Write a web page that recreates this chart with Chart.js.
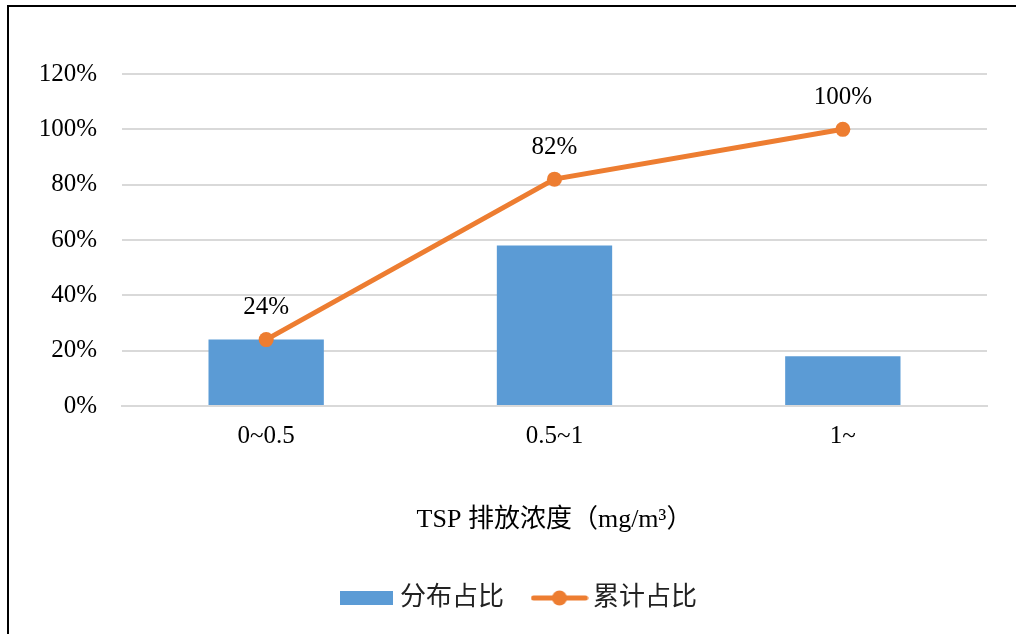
<!DOCTYPE html>
<html>
<head>
<meta charset="utf-8">
<script src="https://cdn.jsdelivr.net/npm/chart.js@4"></script>
<style>
  body { margin: 0; background: #fff; overflow: hidden; }
  #frame { position: absolute; left: 7px; top: 5px; width: 1100px; height: 700px; border: 2px solid #000; }
  #chart { position: absolute; left: 0; top: 0; }
</style>
</head>
<body>
<div id="frame"></div>
<canvas id="chart" width="1016" height="634"></canvas>
<script>
// dados
const categorias = ['0~0.5', '0.5~1', '1~'];
const distribuicao = [24, 58, 18];     // 分布占比 (%)
const acumulado = [24, 82, 100];       // 累计占比 (%)
const nomesSeries = ['分布占比', '累计占比'];
const eixoX = 'TSP 排放浓度（mg/m³）';
const yMax = 120;
const yPasso = 20;

const AZUL = '#5B9BD5';
const LARANJA = '#ED7D31';
const SERIF = '"Liberation Serif", "Noto Sans CJK SC", serif';

// amostras da legenda (retângulo e linha com ponto)
function amostraBarra() {
    const c = document.createElement('canvas');
    c.width = 53; c.height = 14;
    const g = c.getContext('2d');
    g.fillStyle = AZUL;
    g.fillRect(0, 0, 53, 14);
    return c;
}
function amostraLinha() {
    const c = document.createElement('canvas');
    c.width = 58; c.height = 16;
    const g = c.getContext('2d');
    g.strokeStyle = LARANJA;
    g.lineWidth = 5;
    g.lineCap = 'round';
    g.beginPath();
    g.moveTo(3, 8); g.lineTo(55, 8);
    g.stroke();
    g.fillStyle = LARANJA;
    g.beginPath();
    g.arc(29, 8, 7.5, 0, Math.PI * 2);
    g.fill();
    return c;
}
const amostras = [amostraBarra(), amostraLinha()];

// rótulos de dados acima dos pontos da linha
const rotulos = {
    id: 'rotulos',
    afterDatasetsDraw(chart) {
        const ctx = chart.ctx;
        const meta = chart.getDatasetMeta(1);
        ctx.save();
        ctx.font = '25px ' + SERIF;
        ctx.fillStyle = '#000';
        ctx.textAlign = 'center';
        ctx.textBaseline = 'middle';
        meta.data.forEach((p, i) => {
            ctx.fillText(acumulado[i] + '%', p.x, p.y - 32);
        });
        ctx.restore();
    }
};

// desloca a legenda para o centro como no original
const moverLegenda = {
    id: 'moverLegenda',
    afterLayout(chart) {
        if (chart.legend) {
            chart.legend.left += 28;
            chart.legend.right += 28;
        }
    }
};

const ctx = document.getElementById('chart').getContext('2d');
new Chart(ctx, {
    data: {
        labels: categorias,
        datasets: [
            {
                type: 'bar',
                label: nomesSeries[0],
                data: distribuicao,
                backgroundColor: AZUL,
                borderWidth: 0,
                barPercentage: 1,
                categoryPercentage: 0.4,
                order: 2
            },
            {
                type: 'line',
                label: nomesSeries[1],
                data: acumulado,
                borderColor: LARANJA,
                backgroundColor: LARANJA,
                borderWidth: 5,
                pointRadius: 7.5,
                pointBorderWidth: 0,
                pointBackgroundColor: LARANJA,
                tension: 0,
                order: 1
            }
        ]
    },
    options: {
        responsive: false,
        animation: false,
        layout: { padding: { left: 0, right: 29, top: 74, bottom: 13 } },
        plugins: {
            tooltip: { enabled: false },
            legend: {
                position: 'bottom',
                labels: {
                    usePointStyle: true,
                    pointStyleWidth: 41,
                    padding: 35,
                    color: '#222',
                    font: { family: SERIF, size: 26 },
                    sort: (a, b) => a.datasetIndex - b.datasetIndex,
                    generateLabels(chart) {
                        const itens = Chart.defaults.plugins.legend.labels.generateLabels(chart);
                        itens.forEach(it => { it.pointStyle = amostras[it.datasetIndex]; });
                        return itens;
                    }
                }
            }
        },
        scales: {
            x: {
                grid: { display: false, drawTicks: false },
                border: { display: true, color: '#d9d9d9', width: 2 },
                ticks: { color: '#000', padding: 15, font: { family: SERIF, size: 25 } },
                title: {
                    display: true,
                    text: eixoX,
                    color: '#000',
                    padding: { top: 0, bottom: 14 },
                    font: { family: SERIF, size: 26 }
                },
                afterFit(scale) { scale.height = 144; }
            },
            y: {
                min: 0,
                max: yMax,
                grid: { color: '#d9d9d9', lineWidth: 2, drawTicks: false },
                border: { display: false },
                ticks: {
                    stepSize: yPasso,
                    padding: 25,
                    color: '#000',
                    font: { family: SERIF, size: 25 },
                    callback: v => v + '%'
                },
                afterFit(scale) { scale.width = 122; }
            }
        }
    },
    plugins: [rotulos, moverLegenda]
});
</script>
</body>
</html>
